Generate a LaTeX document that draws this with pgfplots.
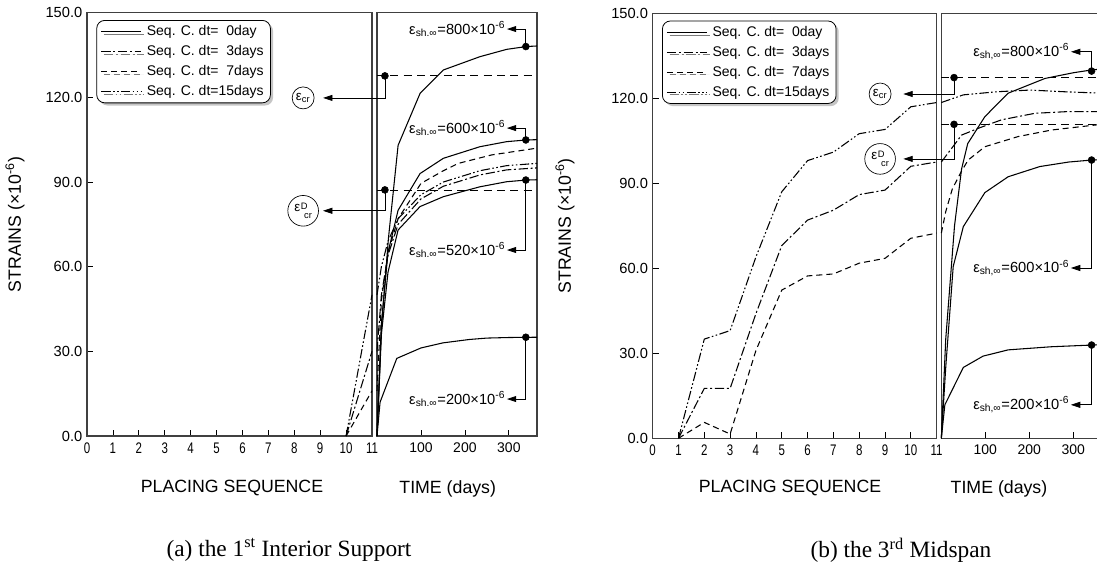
\documentclass[border=0pt]{standalone}
\usepackage{pgfplots}
\pgfplotsset{compat=1.18}
\usepackage{fontspec}
\setmainfont{Liberation Sans}
\newfontfamily\capfont{Liberation Serif}
\usetikzlibrary{arrows.meta,shadows}

\newcommand{\esh}[2]{ε\textsubscript{sh#1∞}=#2×10\textsuperscript{-6}}
\newcommand{\ecr}{ε\textsubscript{cr}}
\newcommand{\edcr}{ε\kern0.05em\raisebox{-0.9ex}{\fontsize{7}{7.5}\selectfont\shortstack[l]{D\\[-0.5pt]\kern0.35em cr}}}

\pgfplotsset{
  strain/.style={
    scale only axis, anchor=south west, ymin=0, ymax=150, clip=false,
    axis line style={line width=0.8pt, black!75},
    tick pos=left, tick align=inside, major tick length=4.5pt,
    tick style={black, line width=0.6pt},
    /pgf/number format/assume math mode=true,
    ticklabel style={font=\fontsize{11}{12}\selectfont},
  },
  seqaxis/.style={strain, xmin=0, xmax=11, xtick={0,...,11}, ytick={0,30,...,150},
    yticklabel style={/pgf/number format/.cd, fixed, fixed zerofill, precision=1},
    xticklabel style={font=\fontsize{11.5}{12}\selectfont, xscale=0.75, yshift=-1.5pt},
    legend image code/.code={\draw[##1] (0pt,0pt) -- (30pt,0pt);},
    legend cell align=left,
    legend style={at={(0,1)}, anchor=north west, xshift=7pt, yshift=-5.5pt,
      draw=black, fill=white, rounded corners=6pt, line width=0.6pt,
      drop shadow={shadow xshift=2pt, shadow yshift=-2pt, fill=black!45},
      font=\fontsize{10.5}{11}\selectfont, inner xsep=3pt, inner ysep=2pt,
      row sep=1.8pt, column sep=1.8pt},
  },
  timeaxis/.style={strain, xmin=0, xmax=364, xtick={100,200,300}, ytick=\empty,
    xticklabel style={font=\fontsize{10.5}{12}\selectfont, yshift=-1.5pt}},
  s0/.style={black, line width=0.8pt, solid},
  s3/.style={black, line width=0.8pt, dash pattern=on 7pt off 2pt on 1.5pt off 2pt},
  s7/.style={black, line width=0.8pt, dash pattern=on 4.5pt off 3pt},
  s15/.style={black, line width=0.8pt, dash pattern=on 7pt off 1.8pt on 1.2pt off 1.8pt on 1.2pt off 1.8pt},
  ecrline/.style={black, line width=0.6pt, dash pattern=on 6pt off 4pt},
  dots/.style={only marks, mark=*, mark size=2.6pt, black},
}
\tikzset{
  ann/.style={line width=0.6pt, -{Triangle[length=7pt,width=4.5pt]}},
  lab/.style={anchor=east, inner sep=1pt, font=\fontsize{11}{12}\selectfont},
  circ/.style={circle, draw, line width=0.5pt, inner sep=0.5pt, font=\fontsize{10}{11}\selectfont},
}

\begin{document}
\begin{tikzpicture}
\path[use as bounding box] (0pt,0pt) rectangle (822.75pt,-429pt);

% ---------- (a) left: placing sequence
\begin{axis}[seqaxis, at={(65.25pt,-327pt)}, width=213.75pt, height=317.5pt]
\addlegendimage{s0}
\addlegendimage{s3}
\addlegendimage{s7}
\addlegendimage{s15}
\legend{Seq. C. dt=\phantom{1}0day, Seq. C. dt=\phantom{1}3days, Seq. C. dt=\phantom{1}7days, Seq. C. dt=15days}
\addplot[s3, forget plot] coordinates {(10,0)(11,30)};
\addplot[s7, forget plot] coordinates {(10,0)(11,16)};
\addplot[s15, forget plot] coordinates {(10,0)(11,50)};
\end{axis}

% ---------- (a) right: time
\begin{axis}[timeaxis, at={(282.75pt,-327pt)}, width=120pt, height=317.5pt]
\addplot[ecrline] coordinates {(0,127.6)(364,127.6)};
\addplot[ecrline] coordinates {(0,87.2)(364,87.2)};
\addplot[s0] coordinates {(0,0)(10,38)(26,70)(48,103)(98,121.4)(151,129.7)(234,134.4)(295,137)(340,138)(364,138.2)};
\addplot[s0] coordinates {(0,0)(10,40)(25,65)(48,80)(98,93)(151,98.4)(234,102.5)(295,104.3)(340,104.9)(364,105)};
\addplot[s0] coordinates {(0,0)(10,36)(25,58)(48,73)(98,81.3)(151,84.8)(234,88.3)(295,90.1)(340,90.7)(364,90.8)};
\addplot[s0] coordinates {(0,0)(7,12)(45,27.5)(100,31.2)(150,33)(210,34.2)(250,34.7)(300,34.9)(364,35)};
\addplot[s7] coordinates {(0,16)(10,48)(25,65)(48,77)(100,89.5)(151,94)(185,96.6)(261,99.6)(364,102)};
\addplot[s15] coordinates {(0,50)(10,60)(25,69)(48,77)(100,85.5)(151,90)(234,94)(295,95.8)(364,96.6)};
\addplot[s3] coordinates {(0,30)(10,50)(25,64)(48,75)(100,84)(151,88.5)(234,92.5)(295,94.3)(364,95)};
\addplot[dots] coordinates {(18,127.6)(18,87.2)(338.6,138)(338.6,104.9)(338.6,90.7)(338.6,35)};
\draw[ann] (axis cs:18,127.6) -- (axis cs:18,119.8) -- (axis cs:-122.7,119.8);
\draw[ann] (axis cs:18,87.2) -- (axis cs:18,79.8) -- (axis cs:-122.7,79.8);
\node[circ, minimum size=16.5pt] at (axis cs:-168,119.8) {\ecr};
\node[circ, minimum size=23pt] at (axis cs:-168,79.8) {\edcr};
\draw[ann] (axis cs:338.6,138) -- (axis cs:338.6,144.2) -- (axis cs:295.5,144.2) node[lab] {\esh{.}{800}};
\draw[ann] (axis cs:338.6,104.9) -- (axis cs:338.6,109.1) -- (axis cs:295.5,109.1) node[lab] {\esh{.}{600}};
\draw[ann] (axis cs:338.6,90.7) -- (axis cs:338.6,65.9) -- (axis cs:295.5,65.9) node[lab] {\esh{.}{520}};
\draw[ann] (axis cs:338.6,35) -- (axis cs:338.6,13.1) -- (axis cs:295.5,13.1) node[lab] {\esh{.}{200}};
\end{axis}

% ---------- (b) left: placing sequence
\begin{axis}[seqaxis, at={(489.5pt,-328.7pt)}, width=213pt, height=318.75pt]
\addlegendimage{s0}
\addlegendimage{s3}
\addlegendimage{s7}
\addlegendimage{s15}
\legend{Seq. C. dt=\phantom{1}0day, Seq. C. dt=\phantom{1}3days, Seq. C. dt=\phantom{1}7days, Seq. C. dt=15days}
\addplot[s15, forget plot] coordinates {(1,0)(2,35)(3,38)(4,64)(5,87)(6,98)(7,101)(8,107.5)(9,109)(10,117)(11,118.5)};
\addplot[s3, forget plot] coordinates {(1,0)(2,17.6)(3,17.6)(4,44)(5,68)(6,77)(7,80.5)(8,86)(9,87.6)(10,96)(11,97.5)};
\addplot[s7, forget plot] coordinates {(1,0)(2,5.6)(3,1.5)(4,31)(5,52.3)(6,57.3)(7,58)(8,61.8)(9,63.5)(10,70.6)(11,72.4)};
\end{axis}

% ---------- (b) right: time
\begin{axis}[timeaxis, at={(706pt,-328.7pt)}, width=120pt, height=318.75pt]
\addplot[ecrline] coordinates {(0,127.3)(364,127.3)};
\addplot[ecrline] coordinates {(0,110.8)(364,110.8)};
\addplot[s0] coordinates {(0,0)(10,35)(30,75)(46,95)(60,104)(99,113.5)(152,121.8)(236,127)(300,129)(342,130)(364,130.3)};
\addplot[s0] coordinates {(0,0)(10,25)(27,60.6)(50,74.7)(99,86.7)(152,92.3)(224,95.9)(290,97.5)(342,98.2)(364,98.3)};
\addplot[s0] coordinates {(0,0)(8,11.8)(50,25)(95,29)(152,31.2)(250,32.3)(342,32.9)(364,33)};
\addplot[s15] coordinates {(0,118.5)(50,121.2)(126,122.3)(202,122.9)(280,122.3)(364,121.8)};
\addplot[s3] coordinates {(0,97.5)(35,104.7)(46,107)(84,109.4)(137,112.4)(213,114.7)(288,115.3)(364,115.3)};
\addplot[s7] coordinates {(0,72.4)(10,80)(25,88)(45,94)(61,98.2)(99,102.9)(175,106.5)(251,108.8)(364,110.8)};
\addplot[dots] coordinates {(28.9,127.3)(28.9,110.8)(341.8,129.6)(341.8,98.2)(341.8,32.9)};
\draw[ann] (axis cs:28.9,127.3) -- (axis cs:28.9,121.5) -- (axis cs:-86.4,121.5);
\draw[ann] (axis cs:28.9,110.8) -- (axis cs:28.9,98.6) -- (axis cs:-86.4,98.6);
\node[circ, minimum size=16.5pt] at (axis cs:-139.3,121.5) {\ecr};
\node[circ, minimum size=23pt] at (axis cs:-139.3,98.6) {\edcr};
\draw[ann] (axis cs:341.8,129.6) -- (axis cs:341.8,136.4) -- (axis cs:294.8,136.4) node[lab] {\esh{,}{800}};
\draw[ann] (axis cs:341.8,98.2) -- (axis cs:341.8,60.1) -- (axis cs:294.8,60.1) node[lab] {\esh{,}{600}};
\draw[ann] (axis cs:341.8,32.9) -- (axis cs:341.8,11.8) -- (axis cs:294.8,11.8) node[lab] {\esh{,}{200}};
\end{axis}

% ---------- axis titles and captions
\begin{scope}[font=\fontsize{13.3}{15}\selectfont]
\node[rotate=90] at (11.25pt,-168.4pt) {STRAINS (×10\textsuperscript{-6})};
\node[rotate=90] at (423.75pt,-169.4pt) {STRAINS (×10\textsuperscript{-6})};
\node at (174pt,-366pt) {PLACING SEQUENCE};
\node at (592.5pt,-366pt) {PLACING SEQUENCE};
\node at (335.8pt,-366.75pt) {TIME (days)};
\node at (749.25pt,-366.75pt) {TIME (days)};
\end{scope}
\node[font=\capfont\fontsize{17.5}{20}\selectfont] at (216.75pt,-412.5pt) {(a) the 1\textsuperscript{st} Interior Support};
\node[font=\capfont\fontsize{17.5}{20}\selectfont] at (675.75pt,-412.5pt) {(b) the 3\textsuperscript{rd} Midspan};
\end{tikzpicture}
\end{document}
